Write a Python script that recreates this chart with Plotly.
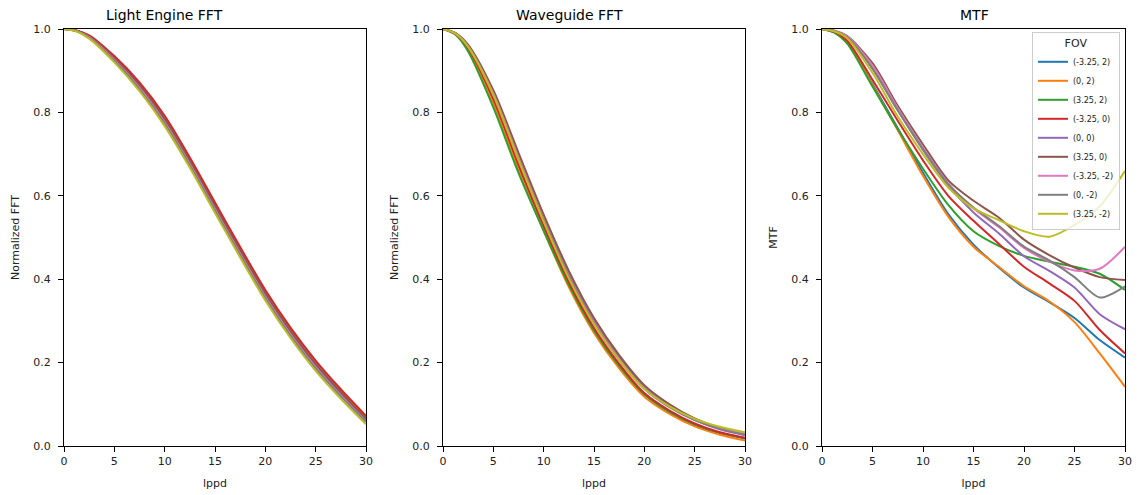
import plotly.graph_objects as go
from plotly.subplots import make_subplots

lppd = [0, 1.25, 2.5, 5, 7.5, 10, 12.5, 15, 17.5, 20, 22.5, 25, 27.5, 30]

fov_labels = ["(-3.25, 2)", "(0, 2)", "(3.25, 2)", "(-3.25, 0)", "(0, 0)",
              "(3.25, 0)", "(-3.25, -2)", "(0, -2)", "(3.25, -2)"]
colors = ["#1f77b4", "#ff7f0e", "#2ca02c", "#d62728", "#9467bd",
          "#8c564b", "#e377c2", "#7f7f7f", "#bcbd22"]

# Light Engine FFT
le_m325_2 = [1.0, 0.996, 0.983, 0.932, 0.867, 0.786, 0.686, 0.578, 0.471, 0.368, 0.278, 0.199, 0.130, 0.067]
le_0_2 = [1.0, 0.996, 0.982, 0.930, 0.865, 0.784, 0.684, 0.576, 0.469, 0.366, 0.276, 0.197, 0.129, 0.068]
le_325_2 = [1.0, 0.996, 0.982, 0.929, 0.864, 0.782, 0.682, 0.574, 0.467, 0.364, 0.274, 0.195, 0.127, 0.064]
le_m325_0 = [1.0, 0.996, 0.985, 0.935, 0.872, 0.792, 0.692, 0.584, 0.477, 0.374, 0.284, 0.205, 0.136, 0.072]
le_0_0 = [1.0, 0.995, 0.981, 0.928, 0.862, 0.780, 0.680, 0.572, 0.465, 0.362, 0.272, 0.193, 0.125, 0.062]
le_325_0 = [1.0, 0.996, 0.982, 0.930, 0.865, 0.783, 0.683, 0.575, 0.468, 0.365, 0.275, 0.196, 0.128, 0.064]
le_m325_m2 = [1.0, 0.995, 0.980, 0.926, 0.859, 0.776, 0.676, 0.568, 0.461, 0.358, 0.268, 0.189, 0.121, 0.059]
le_0_m2 = [1.0, 0.995, 0.979, 0.924, 0.856, 0.773, 0.673, 0.565, 0.458, 0.355, 0.265, 0.186, 0.119, 0.058]
le_325_m2 = [1.0, 0.994, 0.977, 0.920, 0.851, 0.767, 0.667, 0.559, 0.452, 0.349, 0.259, 0.180, 0.113, 0.052]

# Waveguide FFT
wg_m325_2 = [1.0, 0.988, 0.952, 0.826, 0.668, 0.523, 0.388, 0.278, 0.193, 0.124, 0.082, 0.051, 0.031, 0.018]
wg_0_2 = [1.0, 0.987, 0.950, 0.822, 0.663, 0.516, 0.381, 0.271, 0.186, 0.118, 0.077, 0.047, 0.027, 0.013]
wg_325_2 = [1.0, 0.986, 0.946, 0.812, 0.655, 0.516, 0.386, 0.277, 0.192, 0.124, 0.082, 0.052, 0.032, 0.019]
wg_m325_0 = [1.0, 0.988, 0.954, 0.832, 0.675, 0.529, 0.394, 0.283, 0.197, 0.127, 0.085, 0.054, 0.033, 0.020]
wg_0_0 = [1.0, 0.990, 0.960, 0.850, 0.698, 0.549, 0.414, 0.301, 0.213, 0.141, 0.096, 0.063, 0.040, 0.026]
wg_325_0 = [1.0, 0.990, 0.962, 0.853, 0.703, 0.555, 0.420, 0.307, 0.218, 0.146, 0.100, 0.066, 0.043, 0.028]
wg_m325_m2 = [1.0, 0.989, 0.958, 0.845, 0.691, 0.543, 0.408, 0.296, 0.208, 0.138, 0.094, 0.063, 0.042, 0.030]
wg_0_m2 = [1.0, 0.989, 0.957, 0.841, 0.687, 0.541, 0.406, 0.294, 0.206, 0.137, 0.093, 0.062, 0.041, 0.027]
wg_325_m2 = [1.0, 0.989, 0.957, 0.842, 0.686, 0.538, 0.402, 0.292, 0.206, 0.137, 0.095, 0.065, 0.046, 0.033]

# MTF
mtf_m325_2 = [1.0, 0.992, 0.968, 0.868, 0.762, 0.655, 0.556, 0.483, 0.428, 0.380, 0.345, 0.307, 0.254, 0.212]
mtf_0_2 = [1.0, 0.992, 0.968, 0.865, 0.757, 0.648, 0.550, 0.478, 0.430, 0.383, 0.347, 0.297, 0.222, 0.142]
mtf_325_2 = [1.0, 0.991, 0.965, 0.862, 0.760, 0.665, 0.578, 0.515, 0.480, 0.456, 0.442, 0.430, 0.413, 0.374]
mtf_m325_0 = [1.0, 0.993, 0.972, 0.878, 0.780, 0.685, 0.600, 0.540, 0.485, 0.430, 0.390, 0.348, 0.278, 0.222]
mtf_0_0 = [1.0, 0.995, 0.980, 0.905, 0.805, 0.710, 0.625, 0.560, 0.510, 0.455, 0.420, 0.380, 0.316, 0.280]
mtf_325_0 = [1.0, 0.996, 0.983, 0.918, 0.816, 0.723, 0.637, 0.588, 0.548, 0.495, 0.458, 0.428, 0.405, 0.398]
mtf_m325_m2 = [1.0, 0.995, 0.982, 0.912, 0.810, 0.715, 0.630, 0.570, 0.525, 0.475, 0.442, 0.421, 0.425, 0.478]
mtf_0_m2 = [1.0, 0.995, 0.980, 0.905, 0.805, 0.712, 0.628, 0.572, 0.528, 0.478, 0.445, 0.405, 0.356, 0.383]
mtf_325_m2 = [1.0, 0.994, 0.978, 0.895, 0.790, 0.700, 0.620, 0.570, 0.542, 0.515, 0.502, 0.530, 0.575, 0.660]

le_series = [le_m325_2, le_0_2, le_325_2, le_m325_0, le_0_0, le_325_0, le_m325_m2, le_0_m2, le_325_m2]
wg_series = [wg_m325_2, wg_0_2, wg_325_2, wg_m325_0, wg_0_0, wg_325_0, wg_m325_m2, wg_0_m2, wg_325_m2]
mtf_series = [mtf_m325_2, mtf_0_2, mtf_325_2, mtf_m325_0, mtf_0_0, mtf_325_0, mtf_m325_m2, mtf_0_m2, mtf_325_m2]

titles = ["Light Engine FFT", "Waveguide FFT", "MTF"]
ylabels = ["Normalized FFT", "Normalized FFT", "MTF"]

fig = make_subplots(rows=1, cols=3, subplot_titles=titles)

for col, group in enumerate([le_series, wg_series, mtf_series], start=1):
    for i, ys in enumerate(group):
        fig.add_trace(go.Scatter(
            x=lppd, y=ys, mode="lines",
            line=dict(color=colors[i], width=2, shape="spline", smoothing=0.8),
            name=fov_labels[i], legendgroup=fov_labels[i],
            showlegend=(col == 3),
        ), row=1, col=col)

W, H = 1139, 495
xdomains = [(64, 366), (443, 745), (822, 1125)]
ydom = [(H - 446) / H, (H - 29) / H]
font_fam = "DejaVu Sans"

for k, (a, b) in enumerate(xdomains, start=1):
    fig.update_xaxes(
        domain=[a / W, b / W], range=[0, 30], tickvals=[0, 5, 10, 15, 20, 25, 30],
        showline=True, linecolor="black", linewidth=1, mirror=True,
        ticks="outside", ticklen=5, tickcolor="black", showgrid=False, zeroline=False,
        tickfont=dict(size=11, color="#222", family=font_fam),
        title=dict(text="lppd", font=dict(size=11, color="#222", family=font_fam), standoff=12),
        automargin=False, row=1, col=k)
    fig.update_yaxes(
        domain=ydom, range=[0, 1], tickvals=[0, 0.2, 0.4, 0.6, 0.8, 1.0], tickformat=".1f",
        showline=True, linecolor="black", linewidth=1, mirror=True,
        ticks="outside", ticklen=5, tickcolor="black", showgrid=False, zeroline=False,
        ticklabelstandoff=5,
        tickfont=dict(size=11, color="#222", family=font_fam),
        title=dict(text=ylabels[k - 1], font=dict(size=11, color="#222", family=font_fam), standoff=11),
        automargin=False, row=1, col=k)

for ann in fig.layout.annotations:
    ann.font = dict(size=14, color="black", family=font_fam)
    ann.y = ydom[1]
    ann.yanchor = "bottom"
    ann.yshift = 4

fig.update_layout(
    width=W, height=H,
    margin=dict(l=0, r=0, t=0, b=0),
    plot_bgcolor="white", paper_bgcolor="white",
    legend=dict(
        title=dict(text="FOV", font=dict(size=11, family=font_fam, color="#222"), side="top center"),
        font=dict(size=8, family=font_fam, color="#222"),
        x=1120 / W, y=(H - 32) / H, xanchor="right", yanchor="top",
        bgcolor="rgba(255,255,255,0.8)", bordercolor="#cccccc", borderwidth=1,
        tracegroupgap=0, itemwidth=30,
    ),
)

fig.write_html("out.html")
